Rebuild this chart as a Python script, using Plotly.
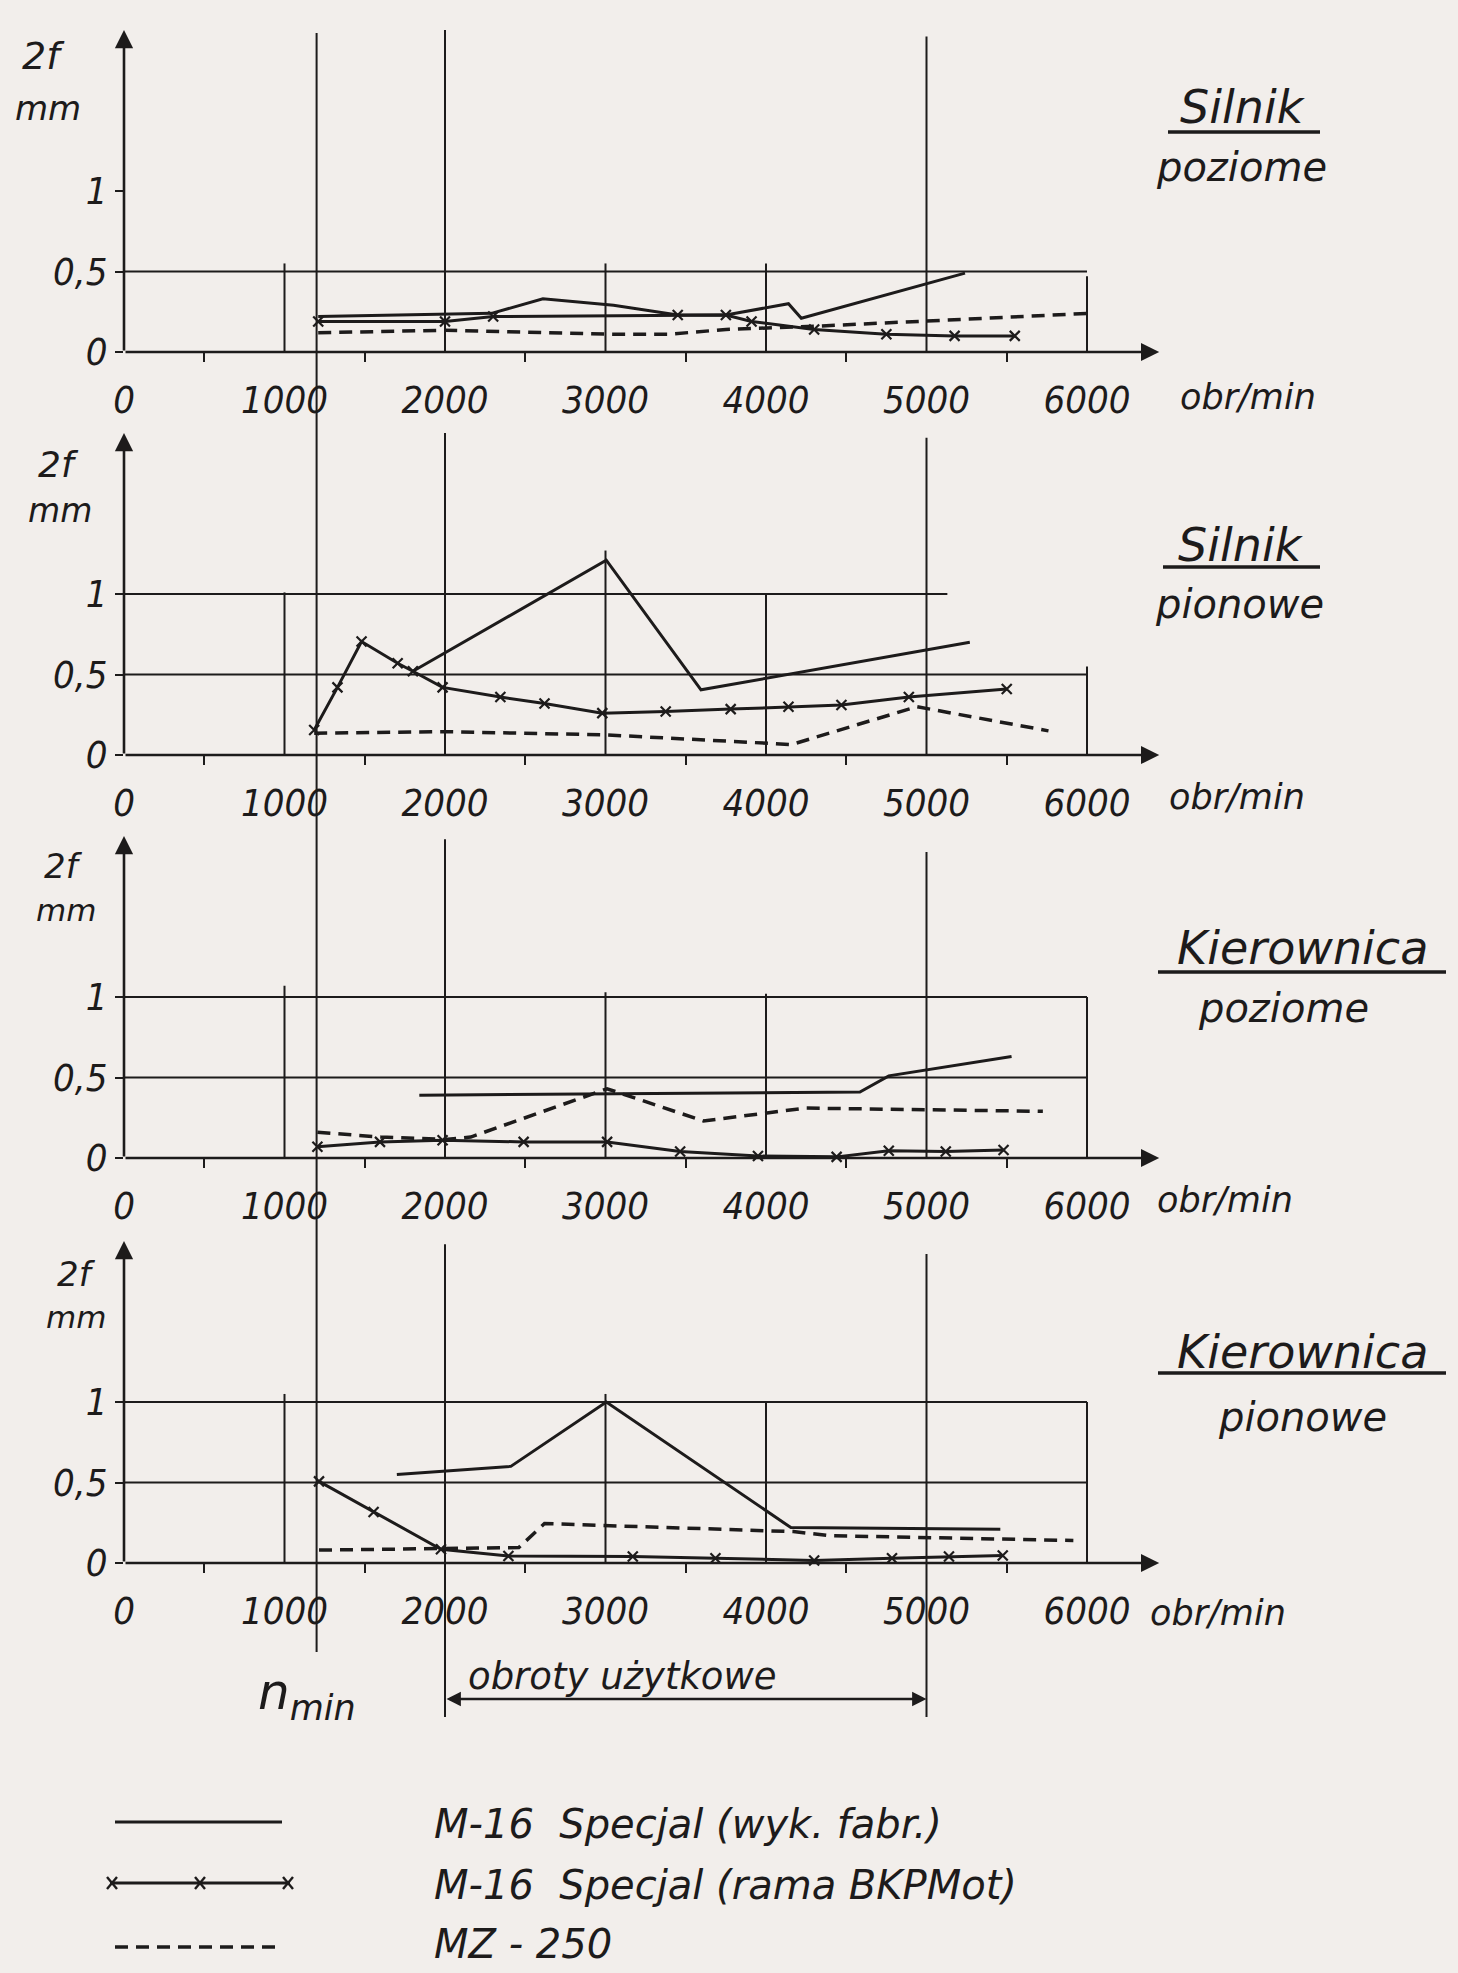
import plotly.graph_objects as go

W, H = 1458, 1973
INK = "#1d1b1b"
PAPER = "#f2eeeb"
FONT = "DejaVu Sans"
TICK_FONT = "Liberation Sans Narrow, DejaVu Sans Condensed, DejaVu Sans"

# ---------------- data ----------------
rpm_ticks = [0, 1000, 2000, 3000, 4000, 5000, 6000]
rpm_tick_labels = ["0", "1000", "2000", "3000", "4000", "5000", "6000"]
amp_ticks = [0, 0.5, 1]
amp_tick_labels = ["0", "0,5", "1"]

panel_titles = ["Silnik", "Silnik", "Kierownica", "Kierownica"]
panel_subtitles = ["poziome", "pionowe", "poziome", "pionowe"]
series_names = ["M-16  Specjal (wyk. fabr.)", "M-16  Specjal (rama BKPMot)", "MZ - 250"]
x_unit = "obr/min"
y_unit = ["2f", "mm"]
usable_label = "obroty użytkowe"
n_min_label = "n<sub>min</sub>"

n_min = 1200
usable_from, usable_to = 2000, 5000

# panel 1 : Silnik poziome
p1_fabr_x = [1210, 2290, 2610, 3050, 3450, 3750, 4140, 4220, 5240]
p1_fabr_y = [0.22, 0.24, 0.33, 0.29, 0.23, 0.23, 0.30, 0.21, 0.49]
p1_rama_x = [1210, 2000, 2300, 3450, 3750, 3910, 4300, 4750, 5175, 5550]
p1_rama_y = [0.19, 0.19, 0.22, 0.23, 0.23, 0.19, 0.14, 0.11, 0.10, 0.10]
p1_mz_x = [1210, 2000, 3060, 3390, 3750, 4300, 4950, 6000]
p1_mz_y = [0.12, 0.135, 0.11, 0.11, 0.14, 0.16, 0.19, 0.24]

# panel 2 : Silnik pionowe
p2_fabr_x = [1800, 3005, 3595, 5270]
p2_fabr_y = [0.52, 1.21, 0.405, 0.70]
p2_rama_x = [1185, 1330, 1480, 1705, 1800, 1985, 2345, 2620, 2980, 3375, 3780, 4140, 4470, 4890, 5500]
p2_rama_y = [0.155, 0.42, 0.705, 0.57, 0.52, 0.42, 0.36, 0.32, 0.26, 0.27, 0.285, 0.30, 0.31, 0.36, 0.41]
p2_mz_x = [1185, 2000, 3000, 4160, 4940, 5760]
p2_mz_y = [0.135, 0.145, 0.125, 0.065, 0.30, 0.15]

# panel 3 : Kierownica poziome
p3_fabr_x = [1840, 4585, 4765, 5530]
p3_fabr_y = [0.39, 0.41, 0.51, 0.63]
p3_rama_x = [1205, 1595, 1985, 2490, 3010, 3465, 3950, 4440, 4765, 5120, 5480]
p3_rama_y = [0.07, 0.10, 0.11, 0.10, 0.10, 0.04, 0.012, 0.007, 0.045, 0.04, 0.05]
p3_mz_x = [1205, 1600, 2000, 2160, 3010, 3610, 4245, 5725]
p3_mz_y = [0.16, 0.13, 0.115, 0.13, 0.43, 0.23, 0.31, 0.29]

# panel 4 : Kierownica pionowe
p4_fabr_x = [1700, 2410, 3005, 4155, 5460]
p4_fabr_y = [0.55, 0.60, 1.0, 0.22, 0.21]
p4_rama_x = [1215, 1555, 1975, 2395, 3170, 3685, 4300, 4785, 5140, 5475]
p4_rama_y = [0.507, 0.317, 0.085, 0.043, 0.04, 0.03, 0.015, 0.03, 0.04, 0.046]
p4_mz_x = [1215, 2460, 2620, 4170, 4395, 5915]
p4_mz_y = [0.08, 0.096, 0.245, 0.195, 0.17, 0.14]

panels = [
    (p1_fabr_x, p1_fabr_y, p1_rama_x, p1_rama_y, p1_mz_x, p1_mz_y),
    (p2_fabr_x, p2_fabr_y, p2_rama_x, p2_rama_y, p2_mz_x, p2_mz_y),
    (p3_fabr_x, p3_fabr_y, p3_rama_x, p3_rama_y, p3_mz_x, p3_mz_y),
    (p4_fabr_x, p4_fabr_y, p4_rama_x, p4_rama_y, p4_mz_x, p4_mz_y),
]

# ---------------- layout helpers ----------------
def xp(px):
    return px / W

def yp(py):
    return 1 - py / H

X_LEFT_PX, PX_PER_1000 = 124, 160.5
X_RANGE = [0, 6700]
X_DOMAIN = [xp(X_LEFT_PX), xp(X_LEFT_PX + PX_PER_1000 * X_RANGE[1] / 1000)]
Y_RANGE = [0, 2.0]
PANEL_PX = [(352, 30), (755, 433), (1158, 836), (1563, 1241)]  # (bottom, top)

H_GRID = [
    [(0.5, 6000)],
    [(1.0, 5130), (0.5, 6000)],
    [(1.0, 6000), (0.5, 6000)],
    [(1.0, 6000), (0.5, 6000)],
]
V_GRID = [
    [(1000, 0.55), (3000, 0.55), (4000, 0.55), (6000, 0.47)],
    [(1000, 1.01), (3000, 1.27), (4000, 1.0), (6000, 0.55)],
    [(1000, 1.07), (3000, 1.03), (4000, 1.02), (6000, 1.0)],
    [(1000, 1.05), (3000, 1.05), (4000, 1.0), (6000, 1.0)],
]
LONG_TOPS = [(2.02, 1.96), (2.0, 1.97), (1.98, 1.9), (1.98, 1.92)]

fig = go.Figure()
shapes = []
annotations = []
tfont = dict(family=TICK_FONT, size=38, color=INK, style="italic")


def label(px, py, text, size, anchor="center"):
    annotations.append(dict(xref="paper", yref="paper", x=xp(px), y=yp(py), text=text,
                            xanchor=anchor, yanchor="middle", showarrow=False,
                            font=dict(family=FONT, size=size, color=INK, style="italic")))


for i, (fx, fy, rx, ry, mx, my) in enumerate(panels):
    n = i + 1
    xa = "x" if n == 1 else f"x{n}"
    ya = "y" if n == 1 else f"y{n}"
    bottom, top = PANEL_PX[i]
    fig.add_trace(go.Scatter(x=fx, y=fy, mode="lines", xaxis=xa, yaxis=ya,
                             line=dict(color=INK, width=3), name=series_names[0],
                             showlegend=False, cliponaxis=False))
    fig.add_trace(go.Scatter(x=rx, y=ry, mode="lines+markers", xaxis=xa, yaxis=ya,
                             line=dict(color=INK, width=3), name=series_names[1],
                             marker=dict(symbol="x-thin", size=10, line=dict(width=2.2, color=INK)),
                             showlegend=False, cliponaxis=False))
    fig.add_trace(go.Scatter(x=mx, y=my, mode="lines", xaxis=xa, yaxis=ya,
                             line=dict(color=INK, width=3.5, dash="13px,8px"), name=series_names[2],
                             showlegend=False, cliponaxis=False))

    fig.layout[f"xaxis{'' if n == 1 else n}"] = dict(
        domain=X_DOMAIN, range=X_RANGE, anchor=ya, showgrid=False, zeroline=False,
        showline=False, tickmode="array", tickvals=rpm_ticks, ticktext=rpm_tick_labels,
        ticks="outside", ticklen=14, tickcolor="rgba(0,0,0,0)", tickfont=tfont,
        minor=dict(tickmode="array", tickvals=[t + 500 for t in rpm_ticks[:-1]],
                   ticks="outside", ticklen=9, tickwidth=2, tickcolor=INK, showgrid=False),
        automargin=False, fixedrange=True)
    fig.layout[f"yaxis{'' if n == 1 else n}"] = dict(
        domain=[yp(bottom), yp(top)], range=Y_RANGE, anchor=xa, showgrid=False,
        zeroline=False, showline=False, tickmode="array", tickvals=amp_ticks,
        ticktext=amp_tick_labels, ticks="outside", ticklen=8, tickwidth=2, tickcolor=INK,
        tickfont=tfont, automargin=False, fixedrange=True)

    for val, xend in H_GRID[i]:
        shapes.append(dict(type="line", xref=xa, yref=ya, x0=0, x1=xend, y0=val, y1=val,
                           line=dict(color=INK, width=2)))
    for rpm, ytop in V_GRID[i]:
        shapes.append(dict(type="line", xref=xa, yref=ya, x0=rpm, x1=rpm, y0=0, y1=ytop,
                           line=dict(color=INK, width=2)))
    for rpm, ytop in zip((usable_from, usable_to), LONG_TOPS[i]):
        shapes.append(dict(type="line", xref=xa, yref=ya, x0=rpm, x1=rpm, y0=0, y1=ytop,
                           line=dict(color=INK, width=2)))
        if n == 4:
            shapes.append(dict(type="line", xref=xa, yref="paper", x0=rpm, x1=rpm,
                               y0=yp(bottom), y1=yp(1717), line=dict(color=INK, width=2)))

    annotations.append(dict(xref=xa, yref=ya, axref=xa, ayref=ya, x=6450, y=0, ax=0, ay=0,
                            text="", showarrow=True, arrowhead=2, arrowsize=1.4,
                            arrowwidth=2.6, arrowcolor=INK))
    annotations.append(dict(xref=xa, yref=ya, axref=xa, ayref=ya, x=0, y=2.0, ax=0, ay=0,
                            text="", showarrow=True, arrowhead=2, arrowsize=1.4,
                            arrowwidth=2.6, arrowcolor=INK))

shapes.append(dict(type="line", xref="x", yref="paper", x0=n_min, x1=n_min,
                   y0=yp(33), y1=yp(1652), line=dict(color=INK, width=2)))

UNIT_POS = [((43, 56, 38), (48, 108, 34)), ((58, 464, 36), (60, 510, 33)),
            ((64, 866, 34), (66, 910, 31)), ((76, 1274, 34), (76, 1317, 31))]
OBR_POS = [(1248, 397), (1237, 797), (1225, 1200), (1218, 1613)]
TITLE_POS = [((1243, 107), (1241, 167), 1168, 1320, 132),
             ((1241, 545), (1239, 604), 1163, 1320, 567),
             ((1302, 948), (1283, 1008), 1158, 1446, 972),
             ((1302, 1352), (1302, 1417), 1158, 1446, 1373)]
for i in range(4):
    (ux1, uy1, us1), (ux2, uy2, us2) = UNIT_POS[i]
    label(ux1, uy1, y_unit[0], us1)
    label(ux2, uy2, y_unit[1], us2)
    ox, oy = OBR_POS[i]
    label(ox, oy, x_unit, 35)
    (tx, ty), (sx, sy), ul0, ul1, uly = TITLE_POS[i]
    label(tx, ty, panel_titles[i], 46)
    label(sx, sy, panel_subtitles[i], 40)
    shapes.append(dict(type="line", xref="paper", yref="paper", x0=xp(ul0), x1=xp(ul1),
                       y0=yp(uly), y1=yp(uly), line=dict(color=INK, width=3.5)))

annotations.append(dict(xref="x4", yref="paper", axref="x4", ayref="pixel", x=usable_to,
                        y=yp(1699), ax=usable_from, ay=0, text="", showarrow=True,
                        arrowhead=2, arrowside="end+start", arrowsize=1.2, arrowwidth=2.4,
                        arrowcolor=INK))
label(466, 1676, usable_label, 37, anchor="left")
label(307, 1695, n_min_label, 50)

LEG_SAMPLE = [(115, 282, 1822), (110, 290, 1883), (115, 278, 1947)]
LEG_TEXT_Y = [1824, 1885, 1944]
for k in range(3):
    x0, x1, y = LEG_SAMPLE[k]
    shapes.append(dict(type="line", xref="paper", yref="paper", x0=xp(x0), x1=xp(x1),
                       y0=yp(y), y1=yp(y),
                       line=dict(color=INK, width=3 if k < 2 else 3.5, dash="solid" if k < 2 else "13px,8px")))
    if k == 1:
        for cx in (x0 + 2, (x0 + x1) / 2, x1 - 2):
            for d in (-1, 1):
                shapes.append(dict(type="line", xref="paper", yref="paper",
                                   x0=xp(cx - 5), x1=xp(cx + 5), y0=yp(y - 6 * d), y1=yp(y + 6 * d),
                                   line=dict(color=INK, width=2.4)))
    label(432, LEG_TEXT_Y[k], series_names[k], 40, anchor="left")

fig.update_layout(width=W, height=H,
                  margin=dict(l=0, r=0, t=0, b=0, pad=0, autoexpand=False),
                  paper_bgcolor=PAPER, plot_bgcolor="rgba(0,0,0,0)",
                  shapes=shapes, annotations=annotations, showlegend=False)

fig.write_html("out.html", config={"displayModeBar": False},
               post_script=("document.body.style.margin='0px';"
                            "document.documentElement.style.overflow='hidden';"
                            "document.body.style.overflow='hidden';"
                            "document.body.style.background='%s';" % PAPER))
